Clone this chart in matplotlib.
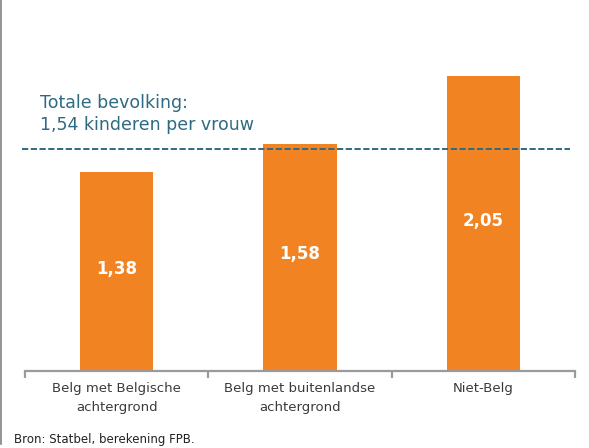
#!/usr/bin/env python3
"""Vruchtbaarheid per herkomst: bar chart with total-population reference line."""

import matplotlib
matplotlib.use("Agg")
import matplotlib.pyplot as plt
from matplotlib.lines import Line2D
import numpy as np

CATEGORIES = ["Belg met Belgische\nachtergrond",
              "Belg met buitenlandse\nachtergrond",
              "Niet-Belg"]
VALUES = [1.38, 1.58, 2.05]
VALUE_LABELS = ["1,38", "1,58", "2,05"]
TOTAL = 1.54
TOTAL_LABEL = "Totale bevolking:\n1,54 kinderen per vrouw"
SOURCE = "Bron: Statbel, berekening FPB."

COLOR_BAR = "#F28323"
COLOR_LINE = "#2E6A82"
COLOR_AXIS = "#9A9A9A"
COLOR_TEXT = "#3A3A3A"

plt.rcParams["font.family"] = ["DejaVu Sans"]

fig = plt.figure(figsize=(5.89, 4.48), dpi=100)
ax = fig.add_axes([25 / 589, 77 / 448, 550 / 589, 331 / 448])

x = np.arange(len(CATEGORIES))
ax.bar(x, VALUES, width=0.4, color=COLOR_BAR, zorder=2)

for xi, v, lab in zip(x, VALUES, VALUE_LABELS):
    ax.text(xi, v / 2 + 0.02, lab, ha="center", va="center", color="white",
            fontsize=12, fontweight="bold", zorder=4)

# reference line for the whole population
ax.hlines(TOTAL, -0.516, 2.473, colors=COLOR_LINE, linestyles=(0, (3.2, 1.3)),
          linewidth=1.4, clip_on=False, zorder=3)
ax.text(-0.418, 1.785, TOTAL_LABEL, ha="left", va="center", color=COLOR_LINE,
        fontsize=12.5, linespacing=1.25)

ax.set_xlim(-0.5, 2.5)
ax.set_ylim(0, 2.3)
for side in ("top", "right", "left"):
    ax.spines[side].set_visible(False)
ax.spines["bottom"].set_color(COLOR_AXIS)
ax.spines["bottom"].set_linewidth(1.6)
ax.set_yticks([])

ax.set_xticks(x)
ax.set_xticklabels(CATEGORIES, fontsize=9.5, color=COLOR_TEXT, linespacing=1.6)
ax.tick_params(axis="x", which="major", length=0, pad=8)
ax.set_xticks([-0.5, 0.5, 1.5, 2.5], minor=True)
ax.tick_params(axis="x", which="minor", length=5, width=1.6, color=COLOR_AXIS)

fig.text(14 / 589, 1 - 439 / 448, SOURCE, ha="left", va="center",
         fontsize=8.5, color="#222222")

# left frame edge
fig.add_artist(Line2D([0.8 / 589, 0.8 / 589], [4 / 448, 1], transform=fig.transFigure,
                      color="#808080", linewidth=1.2))

fig.savefig("out.png", dpi=100)
